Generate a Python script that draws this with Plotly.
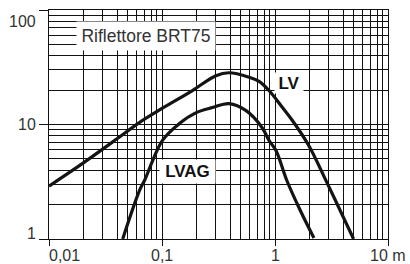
import numpy as np
import plotly.graph_objects as go

# ---- data ----
lv_x = [0.01, 0.02, 0.04, 0.063, 0.1, 0.186, 0.3, 0.39, 0.59, 0.723, 0.885, 1.15, 1.42, 2.0, 2.8, 3.73, 4.96]
lv_y = [2.9, 4.6, 7.5, 10.4, 13.8, 19.8, 26.7, 28.3, 25.9, 23.8, 19.8, 14.3, 10.9, 6.5, 3.3, 1.82, 1.0]

lvag_x = [0.0449, 0.0634, 0.0702, 0.101, 0.1425, 0.201, 0.279, 0.393, 0.555, 0.767, 0.885, 1.02, 1.27, 1.667, 2.21]
lvag_y = [1.0, 2.67, 3.26, 7.26, 10.2, 12.7, 14.06, 15.2, 13.2, 9.42, 7.26, 5.94, 3.26, 1.79, 1.02]

x_major = [0.01, 0.1, 1, 10]
x_labels = ["0,01", "0,1", "1", "10 m"]
y_major = [1, 10, 100]
y_labels = ["1", "10", "100"]
minor_digits = [2, 3, 4, 5, 6, 7, 8, 9]

title_text = "Riflettore BRT75"
series_names = ["LV", "LVAG"]

# ---- figure ----
x_minor = [d * m for m in x_major[:-1] for d in minor_digits]
y_minor = [d * m for m in y_major[:-1] for d in minor_digits]

LINE = "#141414"
TXT = "#333333"
FONT = "Liberation Sans, Arial, sans-serif"

fig = go.Figure()
fig.add_trace(go.Scatter(x=lv_x, y=lv_y, mode="lines", name=series_names[0],
                         line=dict(color=LINE, width=3.2, shape="spline", smoothing=1.0)))
fig.add_trace(go.Scatter(x=lvag_x, y=lvag_y, mode="lines", name=series_names[1],
                         line=dict(color=LINE, width=3.2, shape="spline", smoothing=1.0)))

axis_common = dict(
    type="log", showgrid=True, gridcolor="#111111", gridwidth=1,
    showline=True, linecolor="#111111", linewidth=1, mirror=True,
    ticks="outside", tickcolor="#111111", tickwidth=1,
    showticklabels=False, zeroline=False,
)
fig.update_xaxes(**axis_common, range=[np.log10(x_major[0]), np.log10(x_major[-1])],
                 tickmode="array", tickvals=x_major, ticklen=6,
                 minor=dict(tickmode="array", tickvals=x_minor, showgrid=True,
                            gridcolor="#111111", gridwidth=1, ticks=""))
fig.update_yaxes(**axis_common, range=[np.log10(y_major[0]), np.log10(y_major[-1])],
                 tickmode="array", tickvals=y_major, ticklen=9,
                 minor=dict(tickmode="array", tickvals=y_minor, showgrid=True,
                            gridcolor="#111111", gridwidth=1, ticks=""))

annotations = []
# x tick labels
x_anchor = ["left", "center", "center", "center"]
x_shift = [-2, 0, 0, 0]
for v, t, a, s in zip(x_major, x_labels, x_anchor, x_shift):
    annotations.append(dict(x=np.log10(v), xref="x", y=0, yref="paper", text=t,
                            showarrow=False, xanchor=a, yanchor="middle", xshift=s, yshift=-16,
                            font=dict(family=FONT, size=16, color=TXT)))
# y tick labels
y_shift = [6, 0, -11]
for v, t, s in zip(y_major, y_labels, y_shift):
    annotations.append(dict(x=0, xref="paper", y=np.log10(v), yref="y", text=t,
                            showarrow=False, xanchor="right", yanchor="middle", xshift=-11, yshift=s,
                            font=dict(family=FONT, size=16, color=TXT)))
# title box
annotations.append(dict(x=0.286, y=0.886, xref="paper", yref="paper", text=title_text,
                        showarrow=False, xanchor="center", yanchor="middle",
                        width=138, height=28, bgcolor="white", borderpad=0,
                        font=dict(family=FONT, size=17.5, color=TXT)))
# series labels
annotations.append(dict(x=0.7094, y=0.681, xref="paper", yref="paper", text="<b>%s</b>" % series_names[0],
                        showarrow=False, xanchor="center", yanchor="middle",
                        width=28, height=20, bgcolor="white", borderpad=0,
                        font=dict(family=FONT, size=17, color="#111111")))
annotations.append(dict(x=0.4086, y=0.2948, xref="paper", yref="paper", text="<b>%s</b>" % series_names[1],
                        showarrow=False, xanchor="center", yanchor="middle",
                        width=55, height=23, bgcolor="white", borderpad=0,
                        font=dict(family=FONT, size=17, color="#111111")))

fig.update_layout(
    width=410, height=264,
    margin=dict(l=49, r=22, t=10, b=25),
    paper_bgcolor="white", plot_bgcolor="white",
    showlegend=False, annotations=annotations,
)

fig.write_html("out.html", config={"displayModeBar": False},
               post_script="document.body.style.margin='0';document.body.style.overflow='hidden';")
